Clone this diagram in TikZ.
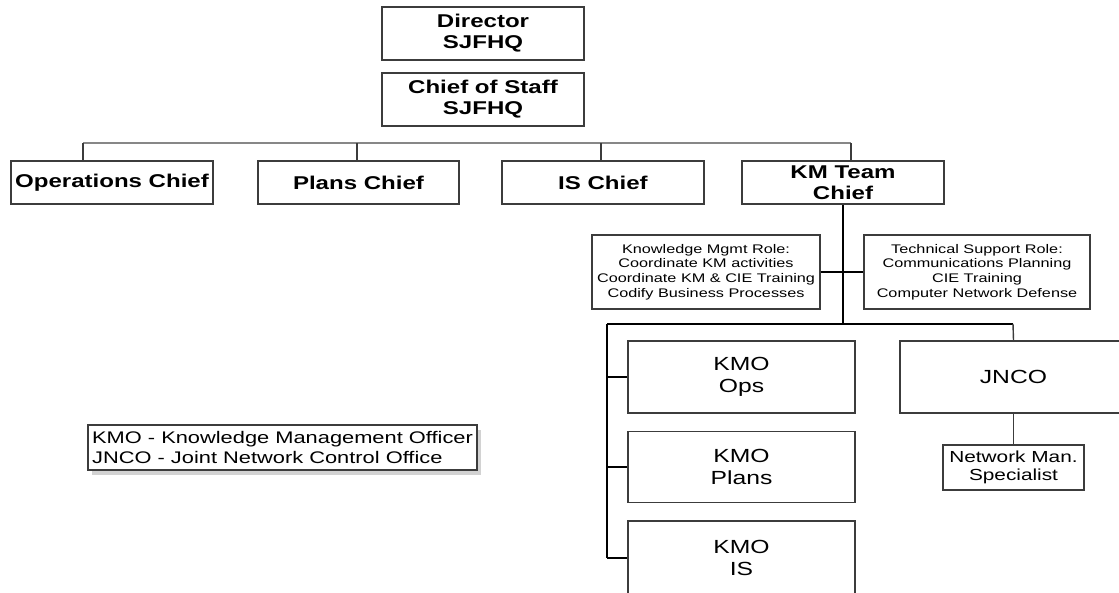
\documentclass[tikz,border=0pt]{standalone}
\usepackage{fontspec}
\usepackage{xcolor}
\usepackage{tikz}
\usetikzlibrary{calc,shadows}
\setmainfont{Liberation Sans}
\newfontfamily\chartfont[FakeStretch=1.3]{Liberation Sans}
\definecolor{bargray}{RGB}{135,135,135}
\definecolor{boxgray}{RGB}{60,60,60}

\begin{document}
\begin{tikzpicture}[x=1pt,y=-1pt]
                    \tikzstyle{every node}+=[inner sep=0pt]
                    \tikzstyle{chiefbox}=[draw=boxgray, line width=1.2pt, align=center, font=\chartfont\bfseries\fontsize{18.5}{21}\selectfont]
                    \tikzstyle{rolebox}=[draw=boxgray, line width=1.2pt, align=center, font=\chartfont\fontsize{12.5}{14.8}\selectfont]
                    \tikzstyle{kmobox}=[draw=boxgray, line width=1.2pt, align=center, font=\chartfont\fontsize{19}{22}\selectfont]
                    \tikzstyle{bar}=[bargray, line width=2pt]
                    \tikzstyle{drop}=[boxgray, line width=1.4pt]
                    \tikzstyle{trunk}=[black, line width=1.8pt]
                    \tikzstyle{tick}=[black, line width=2.4pt]
                    \useasboundingbox (0,0) rectangle (1119,592);
                    \clip (0,0) rectangle (1119,592);
                    % top of the chart
                    \node [chiefbox, minimum width=202, minimum height=53] (dir) at (483,33.5) {Director\\SJFHQ};
                    \node [chiefbox, minimum width=202, minimum height=53] (cos) at (483,99.5) {Chief of Staff\\SJFHQ};
                    \node [chiefbox, minimum width=202, minimum height=43] (ops) at (112,182.5) {Operations Chief};
                    \node [chiefbox, minimum width=201, minimum height=43] (plans) at (358.5,182.5) {Plans Chief};
                    \node [chiefbox, minimum width=202, minimum height=43] (is) at (603,182.5) {IS Chief};
                    \node [chiefbox, minimum width=202, minimum height=43] (km) at (843,182.5) {KM Team\\Chief};
                    \coordinate (barL) at (83,143);
                    \coordinate (barR) at (851,143);
                    \draw [bar] (barL) -- (barR);
                    \draw [drop] (barL) -- (barL |- ops.north);
                    \draw [drop] (357,143) -- (357,0 |- plans.north);
                    \draw [drop] (601,143) -- (601,0 |- is.north);
                    \draw [drop] (barR) -- (barR |- km.north);
                    % KM team
                    \node [rolebox, minimum width=228, minimum height=74] (kmrole) at (706,272) {Knowledge Mgmt Role:\\Coordinate KM activities\\Coordinate KM \& CIE Training\\Codify Business Processes};
                    \node [rolebox, minimum width=226, minimum height=74] (tsrole) at (977,272) {Technical Support Role:\\Communications Planning\\CIE Training\\Computer Network Defense};
                    \coordinate (kbarL) at (607,324);
                    \coordinate (kbarR) at (1013,324);
                    \draw [trunk] (km.south) -- (km.south |- kbarL);
                    \draw [trunk] (kmrole.east) -- (tsrole.west);
                    \draw [trunk] (kbarL) -- (kbarR);
                    \node [kmobox, minimum width=227, minimum height=72] (kmoops) at (741.5,377) {KMO\\Ops};
                    \node [kmobox, minimum width=227, minimum height=71] (kmoplans) at (741.5,467) {KMO\\Plans};
                    \node [kmobox, minimum width=227, minimum height=74] (kmois) at (741.5,558) {KMO\\IS};
                    \node [kmobox, minimum width=227, minimum height=72] (jnco) at (1013.5,377) {JNCO};
                    \node [draw=boxgray, line width=1.2pt, align=center, font=\chartfont\fontsize{16}{17.5}\selectfont, minimum width=141, minimum height=45] (nms) at (1013.5,467.5) {Network Man.\\Specialist};
                    \draw [trunk] (kbarL) -- (kbarL |- kmois.west);
                    \draw [tick] (kbarL |- kmoops.west) -- (kmoops.west);
                    \draw [tick] (kbarL |- kmoplans.west) -- (kmoplans.west);
                    \draw [tick] (kbarL |- kmois.west) -- (kmois.west);
                    \draw [drop] (kbarR) -- (jnco.north);
                    \draw [drop] (jnco.south) -- (nms.north);
                    % legend
                    \node [draw=boxgray, line width=1.2pt, fill=white, align=left, inner sep=2pt, font=\chartfont\fontsize{16.8}{20}\selectfont, minimum width=389, minimum height=45, drop shadow={shadow xshift=4pt, shadow yshift=-5pt, fill=gray!70}] (legend) at (282.5,447.5) {KMO - Knowledge Management Officer\\JNCO - Joint Network Control Office};
                \end{tikzpicture}
\end{document}
